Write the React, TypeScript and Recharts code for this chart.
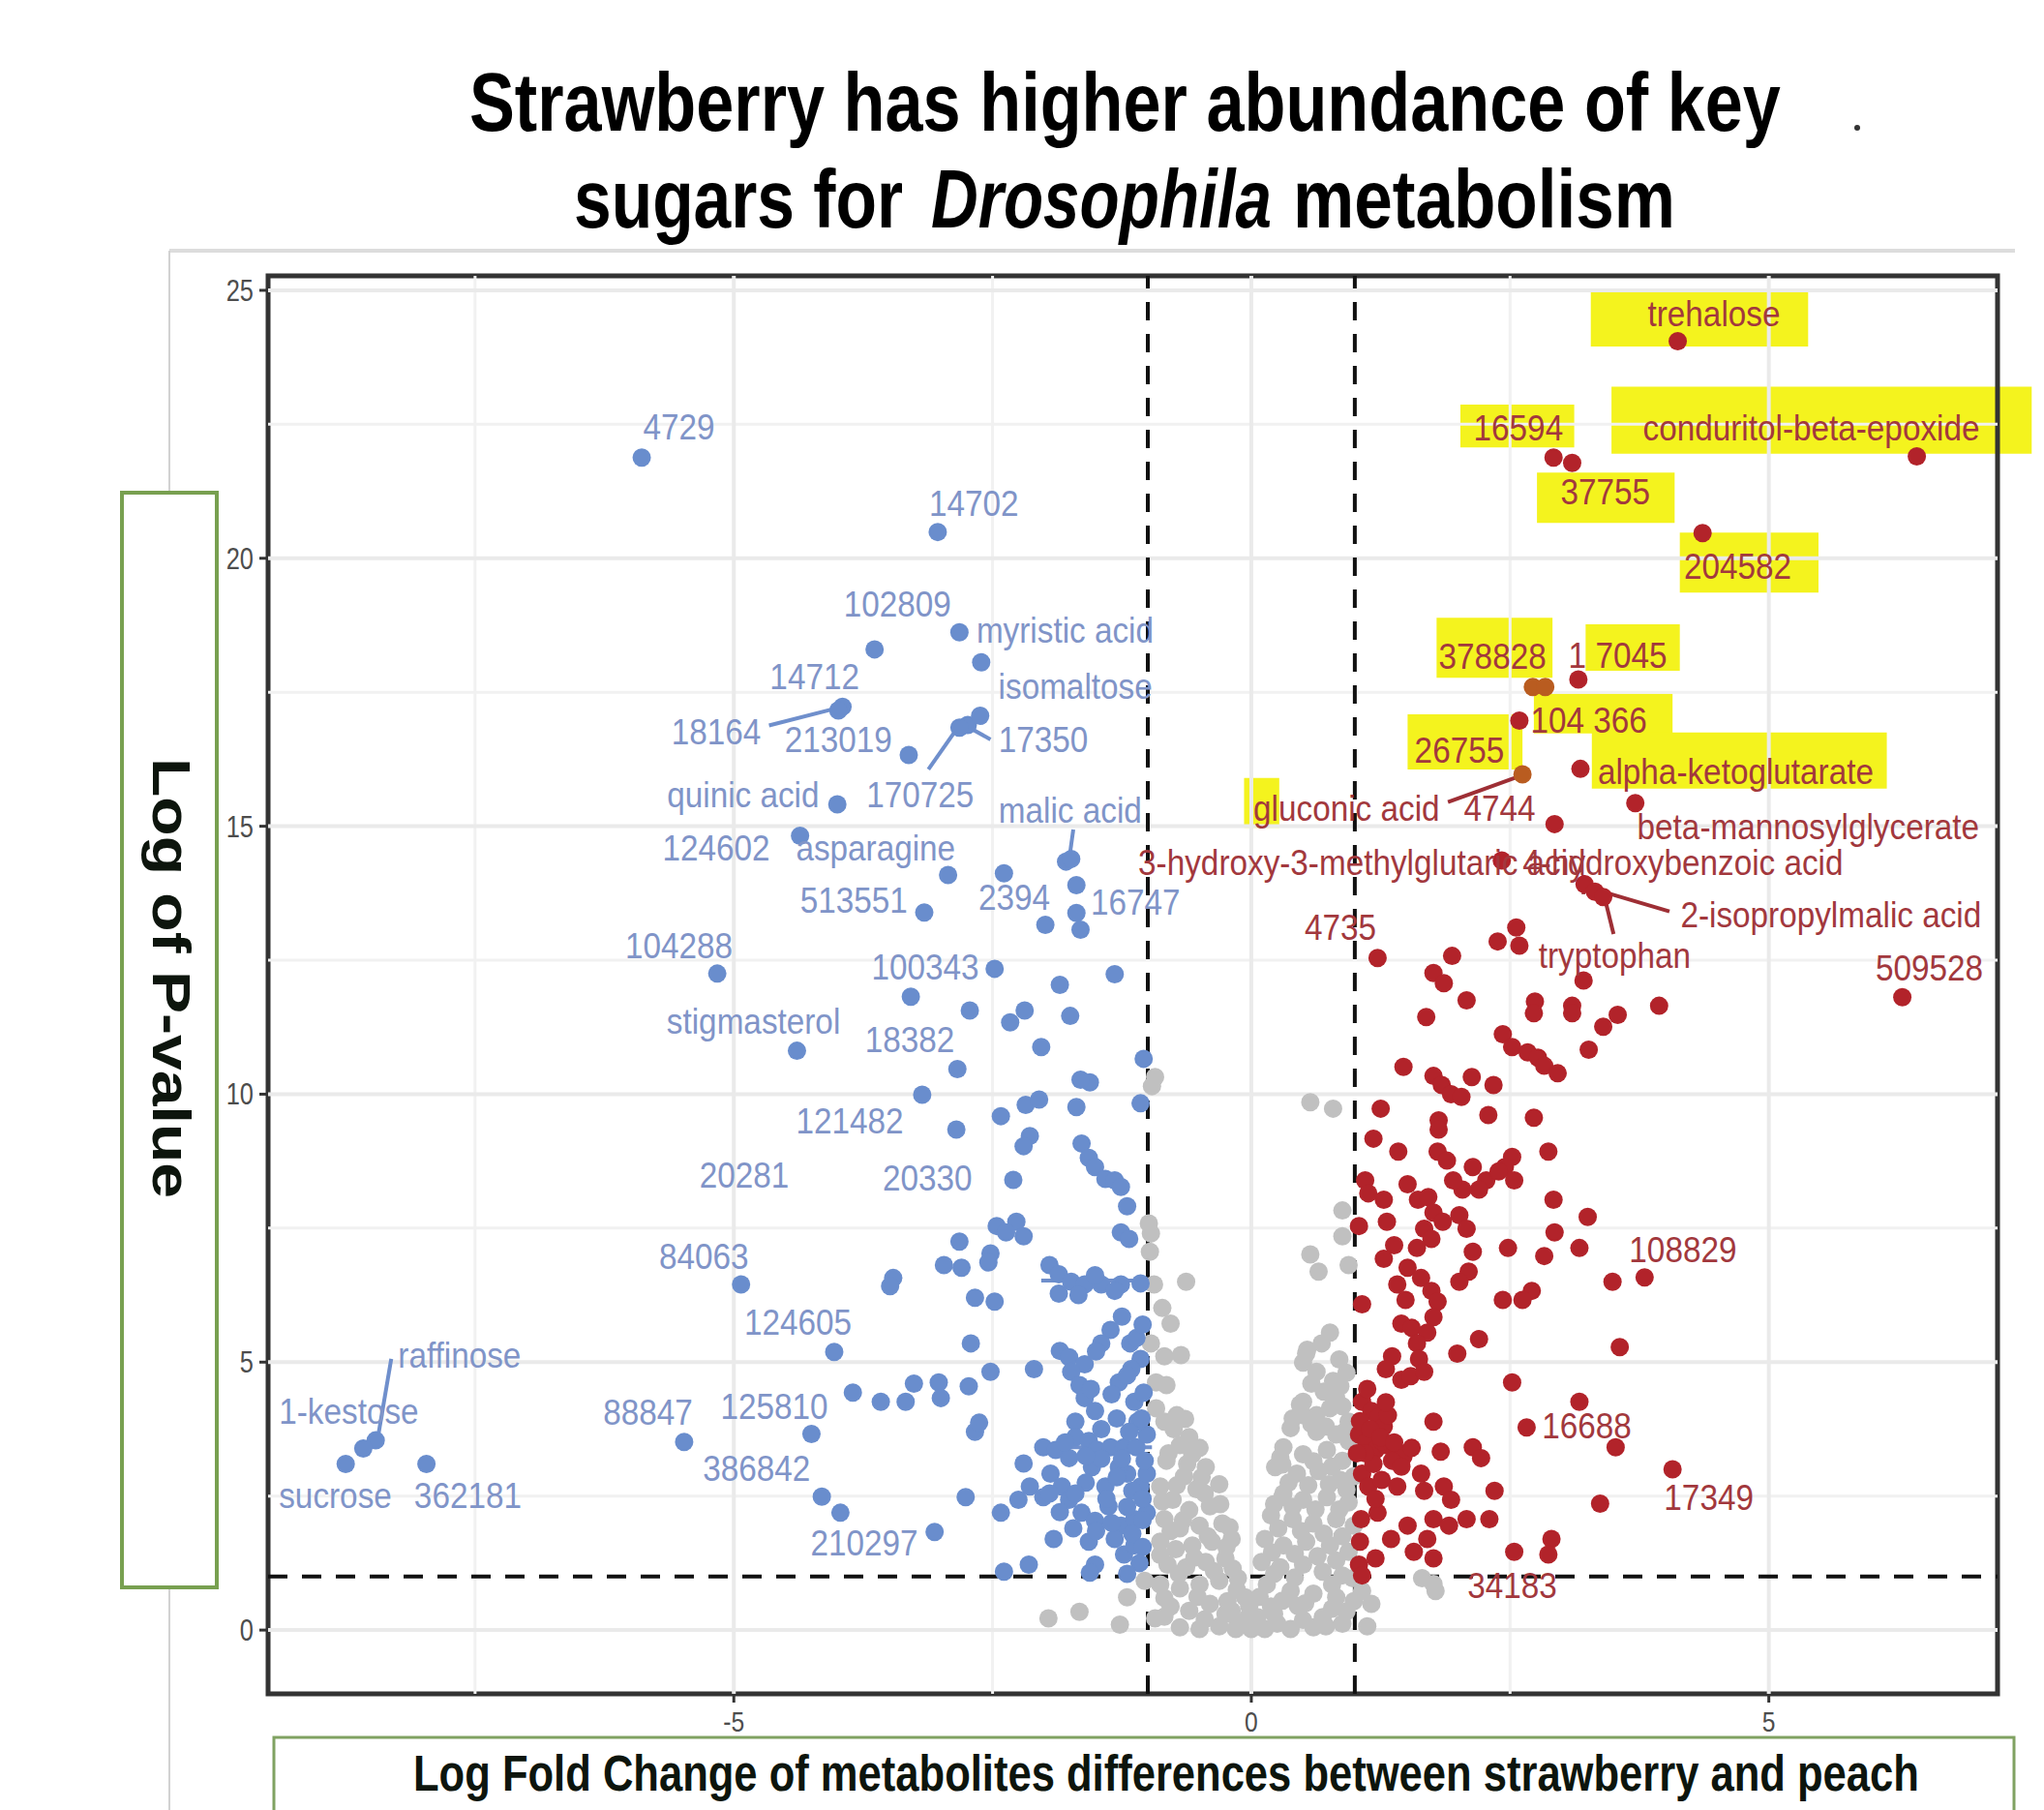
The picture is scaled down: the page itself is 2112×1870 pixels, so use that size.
import React, { useLayoutEffect, useRef, useState } from "react";
import { ScatterChart, Scatter, XAxis, YAxis, ReferenceLine, ReferenceArea } from "recharts";

// ---------- axes ----------
const X_DOMAIN: [number, number] = [-9.5, 7.21];
const Y_DOMAIN: [number, number] = [-1.19, 25.27];
const xTicks = [-5, 0, 5];
const yTicks = [0, 5, 10, 15, 20, 25];
const xMinor = [-7.5, -2.5, 2.5];
const yMinor = [2.5, 7.5, 12.5, 17.5, 22.5];
const fcThresholds = [-1, 1];
const pThreshold = 1;

// ---------- labelled metabolites ----------
const blueLabeled = [
  { name: "4729", x: -5.89, y: 21.88 },
  { name: "14702", x: -3.03, y: 20.49 },
  { name: "102809", x: -3.64, y: 18.3 },
  { name: "myristic acid", x: -2.82, y: 18.62 },
  { name: "isomaltose", x: -2.61, y: 18.06 },
  { name: "14712", x: -3.95, y: 17.23 },
  { name: "18164", x: -3.99, y: 17.16 },
  { name: "213019", x: -3.31, y: 16.33 },
  { name: "17350", x: -2.62, y: 17.06 },
  { name: "170725", x: -2.82, y: 16.84 },
  { name: "quinic acid", x: -4.0, y: 15.41 },
  { name: "124602", x: -4.36, y: 14.82 },
  { name: "asparagine", x: -2.93, y: 14.09 },
  { name: "513551", x: -3.16, y: 13.39 },
  { name: "2394", x: -2.39, y: 14.12 },
  { name: "malic acid", x: -1.74, y: 14.39 },
  { name: "16747", x: -1.69, y: 13.9 },
  { name: "104288", x: -5.16, y: 12.25 },
  { name: "100343", x: -2.48, y: 12.34 },
  { name: "stigmasterol", x: -4.39, y: 10.81 },
  { name: "18382", x: -2.84, y: 10.47 },
  { name: "121482", x: -3.18, y: 9.99 },
  { name: "20330", x: -2.3, y: 8.4 },
  { name: "84063", x: -4.93, y: 6.45 },
  { name: "124605", x: -4.03, y: 5.19 },
  { name: "88847", x: -5.48, y: 3.51 },
  { name: "125810", x: -4.25, y: 3.66 },
  { name: "386842", x: -4.15, y: 2.49 },
  { name: "210297", x: -3.06, y: 1.83 },
  { name: "raffinose", x: -8.46, y: 3.54 },
  { name: "1-kestose", x: -8.58, y: 3.39 },
  { name: "sucrose", x: -8.75, y: 3.1 },
  { name: "362181", x: -7.97, y: 3.1 },
];

const redLabeled = [
  { name: "trehalose", x: 4.12, y: 24.05 },
  { name: "16594", x: 2.92, y: 21.88 },
  { name: "37755", x: 3.1, y: 21.78 },
  { name: "conduritol-beta-epoxide", x: 6.43, y: 21.9 },
  { name: "204582", x: 4.36, y: 20.47 },
  { name: "378828", x: 2.72, y: 17.6 },
  { name: "378828b", x: 2.84, y: 17.6 },
  { name: "17045", x: 3.16, y: 17.74 },
  { name: "104366", x: 2.59, y: 16.97 },
  { name: "26755", x: 2.62, y: 15.97 },
  { name: "alpha-ketoglutarate", x: 3.18, y: 16.07 },
  { name: "4744", x: 2.93, y: 15.04 },
  { name: "beta-mannosylglycerate", x: 3.71, y: 15.43 },
  { name: "3-hydroxy-3-methylglutaric acid", x: 2.42, y: 14.36 },
  { name: "4-hydroxybenzoic acid", x: 3.22, y: 13.92 },
  { name: "tryptophan", x: 3.32, y: 13.78 },
  { name: "2-isopropylmalic acid", x: 3.4, y: 13.68 },
  { name: "4735", x: 1.22, y: 12.54 },
  { name: "509528", x: 6.29, y: 11.81 },
  { name: "108829", x: 3.8, y: 6.58 },
  { name: "16688", x: 2.66, y: 3.78 },
  { name: "17349", x: 4.07, y: 3.0 },
];

// ---------- other significant / non-significant metabolites ----------
const blueOther: [number, number][] = [
  [-2.74, 16.89], [-3.97, 2.19], [-1.79, 14.34],
  [-1.99, 13.16], [-1.69, 13.38], [-1.65, 13.07], [-1.32, 12.24], [-1.85, 12.04], [-1.75, 11.46],
  [-2.19, 11.56], [-2.33, 11.34], [-2.72, 11.56], [-3.29, 11.82], [-2.03, 10.88], [-1.04, 10.66],
  [-1.07, 9.83], [-1.56, 10.22], [-1.65, 10.27], [-1.69, 9.76], [-2.42, 9.59], [-2.18, 9.8],
  [-2.05, 9.9], [-2.85, 9.34], [-2.14, 9.22], [-2.2, 9.03], [-1.64, 9.08], [-1.57, 8.81],
  [-1.51, 8.64], [-1.41, 8.42], [-1.32, 8.39], [-1.26, 8.27], [-1.2, 7.91], [-1.26, 7.42],
  [-1.18, 7.3], [-2.27, 7.62], [-2.46, 7.54], [-2.37, 7.42], [-2.2, 7.35], [-2.82, 7.25],
  [-2.52, 7.03], [-2.54, 6.86], [-3.46, 6.57], [-3.49, 6.42], [-2.97, 6.81], [-2.8, 6.76],
  [-2.67, 6.2], [-2.48, 6.13], [-1.95, 6.81], [-1.86, 6.64], [-1.74, 6.5], [-1.61, 6.45],
  [-1.45, 6.45], [-1.26, 6.45], [-1.07, 6.47], [-1.51, 6.62], [-1.86, 6.28], [-1.67, 6.25],
  [-1.32, 6.33], [-1.36, 5.6], [-1.17, 5.35], [-1.11, 5.45], [-2.71, 5.35], [-2.52, 4.82],
  [-2.1, 4.87], [-1.85, 5.21], [-1.76, 5.09], [-1.61, 4.96], [-1.74, 4.82], [-1.66, 4.57],
  [-1.61, 4.33], [-1.51, 4.09], [-1.7, 3.89], [-1.07, 5.06], [-1.13, 4.26], [-1.04, 4.43],
  [-3.85, 4.43], [-3.58, 4.26], [-3.34, 4.26], [-3.26, 4.6], [-3.02, 4.62], [-3.0, 4.33],
  [-2.73, 4.55], [-2.67, 3.7], [-2.63, 3.87], [-2.01, 3.41], [-1.89, 3.36], [-1.7, 3.6],
  [-1.57, 3.53], [-1.49, 3.36], [-1.36, 3.41], [-1.23, 3.41], [-1.11, 3.41], [-2.2, 3.11],
  [-2.14, 2.68], [-2.01, 2.48], [-1.94, 2.92], [-1.83, 2.68], [-1.76, 2.43], [-1.64, 2.19],
  [-1.51, 2.04], [-1.38, 2.31], [-1.26, 1.95], [-1.13, 2.07], [-1.01, 2.19], [-1.07, 2.68],
  [-1.2, 2.92], [-1.01, 2.92], [-1.03, 3.16], [-2.76, 2.48], [-2.42, 2.19], [-2.25, 2.43],
  [-2.39, 1.09], [-2.15, 1.22], [-1.91, 1.7], [-1.72, 1.9], [-1.57, 1.65], [-1.51, 1.22],
  [-1.56, 1.07], [-1.32, 1.7], [-1.23, 1.41], [-1.13, 1.58], [-1.41, 2.68], [-1.28, 3.04],
  [-1.54, 3.04], [-1.76, 3.21], [-1.01, 3.65], [-1.1, 3.89], [-1.16, 4.87], [-1.28, 4.62],
  [-1.45, 5.35],
  [-1.45, 3.2], [-1.3, 2.85], [-1.15, 2.6], [-1.6, 2.75], [-1.7, 2.55], [-1.4, 2.45],
  [-1.2, 2.3], [-1.05, 2.45], [-1.5, 1.85], [-1.35, 2.0], [-1.15, 1.8], [-1.05, 1.55],
  [-1.85, 2.2], [-1.95, 2.55], [-1.25, 3.2], [-1.6, 3.25], [-1.8, 3.5], [-1.45, 3.75],
  [-1.3, 3.95], [-1.18, 3.7], [-1.06, 3.95], [-1.55, 4.5], [-1.35, 4.4], [-1.2, 4.75],
  [-1.5, 5.2], [-1.05, 5.7], [-1.25, 5.85], [-1.05, 2.05], [-1.08, 1.25], [-1.2, 1.05],
];

const redOther: [number, number][] = [
  [2.56, 13.11], [2.59, 12.77], [2.38, 12.85], [1.94, 12.58], [1.76, 12.26], [1.86, 12.07],
  [2.08, 11.75], [1.69, 11.44], [2.74, 11.73], [2.73, 11.51], [3.21, 12.12], [3.1, 11.65],
  [3.1, 11.51], [3.54, 11.48], [3.4, 11.26], [3.94, 11.65], [3.26, 10.83], [2.43, 11.12],
  [2.52, 10.88], [2.67, 10.78], [2.77, 10.68], [2.83, 10.53], [2.96, 10.39], [1.47, 10.51],
  [1.76, 10.34], [1.84, 10.17], [1.93, 10.0], [2.03, 9.95], [2.13, 10.32], [2.34, 10.17],
  [1.25, 9.73], [1.81, 9.51], [1.81, 9.34], [2.29, 9.61], [2.73, 9.56], [2.87, 8.93],
  [2.52, 8.83], [2.45, 8.64], [1.18, 9.17], [1.42, 8.93], [1.8, 8.93], [1.89, 8.76],
  [2.14, 8.64], [2.27, 8.39], [2.39, 8.56], [2.54, 8.39], [2.2, 8.22], [2.04, 8.22],
  [1.95, 8.39], [1.1, 8.39], [1.13, 8.15], [1.28, 8.03], [1.51, 8.32], [1.61, 8.03],
  [1.71, 8.08], [1.76, 7.79], [1.85, 7.62], [1.67, 7.49], [1.74, 7.3], [2.01, 7.74],
  [2.08, 7.49], [2.92, 8.03], [3.25, 7.71], [1.04, 7.54], [1.31, 7.62], [1.38, 7.18],
  [1.28, 6.93], [1.6, 7.13], [1.51, 6.76], [1.64, 6.57], [2.14, 7.06], [2.1, 6.69],
  [2.01, 6.5], [2.48, 7.13], [2.93, 7.42], [3.17, 7.13], [2.83, 6.98], [2.71, 6.33],
  [2.62, 6.16], [3.49, 6.5], [1.07, 6.08], [1.41, 6.45], [1.49, 6.16], [1.74, 6.33],
  [1.8, 6.13], [1.45, 5.72], [1.55, 5.64], [1.76, 5.84], [1.7, 5.55], [1.6, 5.35],
  [2.43, 6.16], [2.2, 5.43], [1.36, 5.11], [1.3, 4.87], [1.45, 4.67], [1.62, 5.06],
  [1.54, 4.74], [1.67, 4.82], [1.99, 5.16], [3.56, 5.28], [2.52, 4.62], [1.07, 4.26],
  [1.16, 4.09], [1.23, 3.97], [1.28, 3.8], [1.32, 4.01], [1.04, 3.65], [1.11, 3.5],
  [1.2, 3.36], [1.3, 3.45], [1.41, 3.33], [1.47, 3.24], [3.17, 4.26], [3.52, 3.41],
  [1.76, 3.89], [1.83, 3.33], [2.14, 3.41], [2.22, 3.21], [1.07, 2.92], [1.13, 2.68],
  [1.26, 2.8], [1.41, 2.68], [1.64, 2.92], [1.67, 2.6], [1.86, 2.68], [1.93, 2.43],
  [2.35, 2.6], [3.37, 2.36], [1.06, 2.07], [1.22, 2.19], [1.51, 1.95], [1.76, 2.07],
  [1.7, 1.7], [1.57, 1.46], [1.91, 1.95], [2.08, 2.07], [2.3, 2.07], [2.54, 1.46],
  [2.9, 1.7], [2.87, 1.41], [1.04, 1.22], [1.07, 1.02], [1.2, 1.34], [1.76, 1.34],
  [1.26, 3.53], [1.36, 3.16],
  [1.05, 3.9], [1.15, 3.75], [1.25, 3.6], [1.38, 3.5], [1.18, 3.1], [1.1, 3.3],
  [1.45, 3.05], [1.55, 3.4], [1.02, 3.3], [1.3, 4.25], [1.12, 4.5], [1.2, 2.45],
  [1.05, 1.65], [1.35, 1.7],
];

const grayOther: [number, number][] = [
  [-0.93, 10.32], [-0.96, 10.15], [0.57, 9.85], [0.79, 9.73], [-0.99, 7.59], [-0.97, 7.4],
  [-0.98, 7.06], [0.88, 7.83], [0.88, 7.35], [0.57, 7.01], [0.65, 6.69], [0.94, 6.81],
  [-0.63, 6.5], [-0.94, 6.45], [-0.86, 6.01], [-0.78, 5.72], [0.76, 5.55], [-0.97, 5.35],
  [-0.84, 5.11], [0.54, 5.23], [0.63, 4.82], [0.5, 4.99], [0.86, 4.55], [0.82, 4.33],
  [-0.92, 4.62], [-0.82, 4.57], [-0.92, 4.14], [-0.84, 3.89], [-0.72, 4.01], [0.5, 4.26],
  [0.63, 4.01], [0.76, 4.14], [0.88, 4.18], [0.94, 3.89], [-0.68, 5.13], [-0.64, 3.94],
  [0.53, 5.16], [0.79, 4.65], [0.47, 4.21], [0.3, 3.09], [0.3, 2.48], [-0.21, 1.92],
  [-1.96, 0.22], [-1.66, 0.34], [-1.27, 0.1], [-1.2, 0.61], [-1.03, 0.92], [-0.93, 0.22],
  [1.16, 0.49], [1.12, 0.07], [0.72, 0.07], [1.07, 0.73], [1.65, 0.97], [1.78, 0.73],
  [-0.69, 3.45], [-0.57, 3.28], [-0.82, 3.16], [-0.44, 3.04], [-0.65, 2.87], [-0.88, 2.68],
  [-0.53, 2.63], [-0.31, 2.72], [-0.76, 2.43], [-0.6, 2.24], [-0.4, 2.31], [-0.84, 2.07],
  [-0.69, 1.9], [-0.5, 1.95], [-0.28, 1.99], [-0.88, 1.65], [-0.73, 1.51], [-0.57, 1.58],
  [-0.38, 1.65], [-0.19, 1.7], [-0.81, 1.22], [-0.63, 1.17], [-0.44, 1.27], [-0.25, 1.34],
  [-0.88, 0.85], [-0.69, 0.78], [-0.5, 0.85], [-0.31, 0.92], [-0.13, 0.97], [-0.78, 0.44],
  [-0.6, 0.36], [-0.4, 0.49], [-0.23, 0.54], [-0.06, 0.61], [-0.69, 0.05], [-0.5, 0.02],
  [-0.31, 0.07], [-0.13, 0.12], [0.06, 0.24], [0.19, 0.44], [0.25, 0.12], [0.38, 0.02],
  [0.5, 0.19], [0.0, 0.02], [-0.19, 0.36], [-0.03, 0.24], [0.13, 0.02], [-0.15, 0.02],
  [0.5, 4.01], [0.38, 3.77], [0.63, 3.7], [0.82, 3.65], [0.94, 3.53], [0.31, 3.41],
  [0.5, 3.28], [0.73, 3.36], [0.88, 3.16], [0.23, 3.04], [0.44, 2.92], [0.65, 2.97],
  [0.86, 2.8], [0.99, 2.87], [0.31, 2.55], [0.5, 2.43], [0.73, 2.48], [0.94, 2.38],
  [0.19, 2.14], [0.4, 2.07], [0.6, 1.99], [0.82, 2.07], [0.99, 1.95], [0.13, 1.7],
  [0.31, 1.58], [0.53, 1.65], [0.76, 1.58], [0.94, 1.46], [0.1, 1.27], [0.28, 1.17],
  [0.5, 1.22], [0.69, 1.09], [0.88, 1.02], [0.98, 0.97], [0.15, 0.85], [0.38, 0.73],
  [0.6, 0.68], [0.82, 0.61], [0.99, 0.54], [0.69, 0.24], [0.88, 0.12],
  [-0.8, 3.3], [-0.62, 3.1], [-0.48, 2.85], [-0.72, 2.7], [-0.86, 2.4], [-0.45, 2.55],
  [-0.3, 2.35], [-0.66, 2.05], [-0.78, 1.85], [-0.42, 1.75], [-0.24, 1.55], [-0.88, 1.4],
  [-0.55, 1.35], [-0.7, 1.05], [-0.36, 1.1], [-0.18, 1.15], [-0.84, 0.6], [-0.52, 0.62],
  [-0.14, 0.75], [-0.84, 0.25], [-0.45, 0.2], [-0.25, 0.3], [-0.02, 0.45], [0.08, 0.62],
  [0.22, 0.3], [0.3, 0.55], [0.45, 0.45], [-0.6, 3.6], [-0.75, 3.75], [-0.5, 3.4],
  [0.4, 3.95], [0.58, 3.85], [0.72, 3.8], [0.9, 3.7], [0.28, 3.22], [0.6, 3.15],
  [0.78, 3.05], [0.36, 2.75], [0.55, 2.7], [0.75, 2.72], [0.92, 2.62], [0.22, 2.35],
  [0.4, 2.3], [0.62, 2.25], [0.85, 2.25], [0.26, 1.9], [0.48, 1.85], [0.7, 1.8],
  [0.88, 1.75], [0.2, 1.45], [0.42, 1.42], [0.64, 1.38], [0.82, 1.3], [0.22, 1.05],
  [0.42, 0.98], [0.78, 0.85], [0.52, 0.5], [0.92, 0.35], [0.6, 0.05], [0.78, 0.4],
  [0.7, 4.45], [0.92, 4.8], [0.58, 4.6], [0.85, 5.05], [0.68, 5.35],
];
const grayLabeled = [{ name: "34183", x: 1.76, y: 0.86 }];

// label text placements (label centre, data units)
const labelSpots = [
  { t: "4729", x: -5.53, y: 22.46, g: "b" }, { t: "14702", x: -2.68, y: 21.02, g: "b" },
  { t: "102809", x: -3.42, y: 19.15, g: "b" }, { t: "myristic acid", x: -1.8, y: 18.66, g: "b" },
  { t: "isomaltose", x: -1.7, y: 17.62, g: "b" }, { t: "14712", x: -4.22, y: 17.79, g: "b" },
  { t: "18164", x: -5.17, y: 16.76, g: "b" }, { t: "213019", x: -3.99, y: 16.62, g: "b" },
  { t: "17350", x: -2.01, y: 16.62, g: "b" }, { t: "170725", x: -3.2, y: 15.6, g: "b" },
  { t: "quinic acid", x: -4.91, y: 15.6, g: "b" }, { t: "malic acid", x: -1.75, y: 15.3, g: "b" },
  { t: "124602", x: -5.17, y: 14.6, g: "b" }, { t: "asparagine", x: -3.63, y: 14.6, g: "b" },
  { t: "513551", x: -3.84, y: 13.62, g: "b" }, { t: "2394", x: -2.29, y: 13.67, g: "b" },
  { t: "16747", x: -1.12, y: 13.58, g: "b" }, { t: "104288", x: -5.53, y: 12.77, g: "b" },
  { t: "100343", x: -3.15, y: 12.38, g: "b" }, { t: "stigmasterol", x: -4.81, y: 11.36, g: "b" },
  { t: "18382", x: -3.3, y: 11.02, g: "b" }, { t: "121482", x: -3.88, y: 9.51, g: "b" },
  { t: "20281", x: -4.9, y: 8.49, g: "b" }, { t: "20330", x: -3.13, y: 8.44, g: "b" },
  { t: "84063", x: -5.29, y: 6.98, g: "b" }, { t: "124605", x: -4.38, y: 5.74, g: "b" },
  { t: "raffinose", x: -7.65, y: 5.13, g: "b" }, { t: "1-kestose", x: -8.72, y: 4.09, g: "b" },
  { t: "88847", x: -5.83, y: 4.06, g: "b" }, { t: "125810", x: -4.61, y: 4.18, g: "b" },
  { t: "386842", x: -4.78, y: 3.02, g: "b" }, { t: "sucrose", x: -8.85, y: 2.51, g: "b" },
  { t: "362181", x: -7.57, y: 2.51, g: "b" }, { t: "210297", x: -3.74, y: 1.63, g: "b" },
  { t: "trehalose", x: 4.47, y: 24.57, g: "r" }, { t: "16594", x: 2.58, y: 22.43, g: "r" },
  { t: "conduritol-beta-epoxide", x: 5.41, y: 22.43, g: "r" }, { t: "37755", x: 3.42, y: 21.24, g: "r" },
  { t: "204582", x: 4.7, y: 19.85, g: "r" }, { t: "378828", x: 2.33, y: 18.17, g: "r" },
  { t: "1 7045", x: 3.54, y: 18.2, g: "r" }, { t: "104 366", x: 3.26, y: 16.98, g: "r" },
  { t: "26755", x: 2.01, y: 16.42, g: "r" }, { t: "alpha-ketoglutarate", x: 4.68, y: 16.03, g: "r" },
  { t: "gluconic acid", x: 0.92, y: 15.33, g: "r" }, { t: "4744", x: 2.4, y: 15.33, g: "r" },
  { t: "beta-mannosylglycerate", x: 5.38, y: 14.99, g: "r" },
  { t: "3-hydroxy-3-methylglutaric acid", x: 1.07, y: 14.33, g: "r" },
  { t: "4-hydroxybenzoic acid", x: 4.17, y: 14.33, g: "r" },
  { t: "2-isopropylmalic acid", x: 5.6, y: 13.36, g: "r" }, { t: "tryptophan", x: 3.51, y: 12.6, g: "r" },
  { t: "4735", x: 0.86, y: 13.11, g: "r" }, { t: "509528", x: 6.55, y: 12.36, g: "r" },
  { t: "108829", x: 4.17, y: 7.1, g: "r" }, { t: "16688", x: 3.24, y: 3.82, g: "r" },
  { t: "17349", x: 4.42, y: 2.48, g: "r" }, { t: "34183", x: 2.52, y: 0.83, g: "r" },
];

// label connector segments (data units)
const connectors = [
  { a: [-4.66, 16.88], b: [-3.95, 17.23], g: "b" },
  { a: [-3.12, 16.06], b: [-2.83, 16.86], g: "b" },
  { a: [-2.81, 16.93], b: [-2.52, 16.62], g: "b" },
  { a: [-1.72, 14.94], b: [-1.76, 14.38], g: "b" },
  { a: [-8.31, 5.06], b: [-8.44, 3.58], g: "b" },
  { a: [-2.03, 6.52], b: [-0.97, 6.52], g: "b" },
  { a: [-1.94, 3.41], b: [-0.96, 3.41], g: "b" },
  { a: [1.9, 15.45], b: [2.56, 15.91], g: "r" },
  { a: [4.04, 13.41], b: [3.32, 13.82], g: "r" },
  { a: [3.5, 12.99], b: [3.42, 13.62], g: "r" },
  { a: [3.21, 14.09], b: [3.21, 13.73], g: "r" },
];

// hand-drawn yellow highlights (data units)
const highlights = [
  { x1: 3.28, x2: 5.38, y1: 23.95, y2: 25.0 },
  { x1: 2.02, x2: 3.12, y1: 22.07, y2: 22.87 },
  { x1: 3.48, x2: 7.54, y1: 21.95, y2: 23.2 },
  { x1: 2.76, x2: 4.09, y1: 20.66, y2: 21.6 },
  { x1: 4.14, x2: 5.48, y1: 19.36, y2: 20.48 },
  { x1: 1.79, x2: 2.91, y1: 17.77, y2: 18.89 },
  { x1: 3.23, x2: 4.14, y1: 17.9, y2: 18.77 },
  { x1: 2.73, x2: 4.07, y1: 16.73, y2: 17.47 },
  { x1: 1.51, x2: 2.62, y1: 16.06, y2: 17.09 },
  { x1: 3.29, x2: 6.14, y1: 15.7, y2: 16.75 },
  { x1: -0.07, x2: 0.27, y1: 14.97, y2: 15.9 },
];

const orangeDots = new Set(["378828", "378828b", "26755"]);

// ---------- styles ----------
const BLUE = "#698dcd";
const RED = "#b2232a";
const GRAY = "#c0c0c0";
const ORANGE = "#b95c20";
const BLUE_TXT = "#8094c8";
const RED_TXT = "#a2383d";
const FONT = "'Liberation Sans', Arial, sans-serif";
const R = 9.5;

const toPts = (arr: [number, number][]) => arr.map(([x, y]) => ({ x, y }));

const makeDot = (fill: string) => (p: any) => {
  const name = p?.payload?.name;
  const f = name && orangeDots.has(name) ? ORANGE : fill;
  return <circle cx={p.cx} cy={p.cy} r={R} fill={f} />;
};

const LabelShape = (p: any) => {
  const d = p.payload || p;
  return (
    <g transform={`translate(${p.cx},${p.cy}) scale(0.9,1)`}>
      <text
        x={0}
        y={0}
        textAnchor="middle"
        dominantBaseline="central"
        fontFamily={FONT}
        fontSize={37}
        fill={d.g === "b" ? BLUE_TXT : RED_TXT}
      >
        {d.t}
      </text>
    </g>
  );
};

const XTick = (p: any) => (
  <g transform={`translate(${p.x},${p.y + 28}) scale(0.82,1)`}>
    <text x={0} y={0} textAnchor="middle" fontFamily={FONT} fontSize={30} fill="#4d4d4d">
      {p.payload.value}
    </text>
  </g>
);

const YTick = (p: any) => (
  <g transform={`translate(${p.x},${p.y + 11}) scale(0.82,1)`}>
    <text x={0} y={0} textAnchor="end" fontFamily={FONT} fontSize={31} fill="#4d4d4d">
      {p.payload.value}
    </text>
  </g>
);

// Text squeezed horizontally (via transform) to a target width, like a condensed face.
function FitText(props: {
  x: number;
  y: number;
  width: number;
  size: number;
  rotate?: number;
  italic?: boolean;
  fill?: string;
  guess: number;
  children: string;
}) {
  const ref = useRef<SVGTextElement>(null);
  const [s, setS] = useState(props.guess);
  useLayoutEffect(() => {
    if (ref.current) {
      const w = ref.current.getComputedTextLength();
      if (w > 0) setS(props.width / w);
    }
  }, [props.width]);
  return (
    <g transform={`translate(${props.x},${props.y}) rotate(${props.rotate || 0}) scale(${s},1)`}>
      <text
        ref={ref}
        x={0}
        y={0}
        fontFamily={FONT}
        fontWeight="bold"
        fontStyle={props.italic ? "italic" : "normal"}
        fontSize={props.size}
        fill={props.fill || "#000"}
      >
        {props.children}
      </text>
    </g>
  );
}

export default function App() {
  const border = { stroke: "#333", strokeWidth: 5 };
  return (
    <div style={{ position: "relative", width: 2112, height: 1870, background: "#fff" }}>
      <style>{"body{margin:0}"}</style>
      <ScatterChart width={2112} height={1870} margin={{ top: 285, right: 48, bottom: 70, left: 217 }}>
        <XAxis
          type="number"
          dataKey="x"
          domain={X_DOMAIN}
          ticks={xTicks}
          allowDataOverflow
          axisLine={false}
          tickLine={{ stroke: "#333", strokeWidth: 3 }}
          tickSize={9}
          height={50}
          tick={<XTick />}
        />
        <YAxis
          type="number"
          dataKey="y"
          domain={Y_DOMAIN}
          ticks={yTicks}
          allowDataOverflow
          axisLine={false}
          tickLine={{ stroke: "#333", strokeWidth: 3 }}
          tickSize={9}
          tickMargin={6}
          width={60}
          tick={<YTick />}
        />
        {xMinor.map((v) => (
          <ReferenceLine key={"xm" + v} x={v} stroke="#f1f1f1" strokeWidth={3} />
        ))}
        {yMinor.map((v) => (
          <ReferenceLine key={"ym" + v} y={v} stroke="#f1f1f1" strokeWidth={3} />
        ))}
        {xTicks.map((v) => (
          <ReferenceLine key={"xM" + v} x={v} stroke="#eaeaea" strokeWidth={4} />
        ))}
        {yTicks.map((v) => (
          <ReferenceLine key={"yM" + v} y={v} stroke="#eaeaea" strokeWidth={4} />
        ))}
        {highlights.map((h, i) => (
          <ReferenceArea
            key={"hl" + i}
            x1={h.x1}
            x2={h.x2}
            y1={h.y1}
            y2={h.y2}
            fill="#f4f31e"
            fillOpacity={1}
            stroke="none"
            ifOverflow="visible"
          />
        ))}
        <Scatter data={toPts(grayOther)} shape={makeDot(GRAY)} isAnimationActive={false} />
        <Scatter data={grayLabeled} shape={makeDot(GRAY)} isAnimationActive={false} />
        <Scatter data={toPts(blueOther)} shape={makeDot(BLUE)} isAnimationActive={false} />
        <Scatter data={blueLabeled} shape={makeDot(BLUE)} isAnimationActive={false} />
        <Scatter data={toPts(redOther)} shape={makeDot(RED)} isAnimationActive={false} />
        <Scatter data={redLabeled} shape={makeDot(RED)} isAnimationActive={false} />
        {fcThresholds.map((v) => (
          <ReferenceLine key={"fc" + v} x={v} stroke="#111" strokeWidth={4} strokeDasharray="19 14" />
        ))}
        <ReferenceLine y={pThreshold} stroke="#111" strokeWidth={4} strokeDasharray="20 15" />
        {connectors.map((c, i) => (
          <ReferenceLine
            key={"cn" + i}
            segment={[
              { x: c.a[0], y: c.a[1] },
              { x: c.b[0], y: c.b[1] },
            ]}
            stroke={c.g === "b" ? "#6f8fcc" : "#9e2f35"}
            strokeWidth={4}
            ifOverflow="visible"
          />
        ))}
        <Scatter data={labelSpots} shape={LabelShape} isAnimationActive={false} />
        <ReferenceArea
          x1={X_DOMAIN[0]}
          x2={X_DOMAIN[1]}
          y1={Y_DOMAIN[0]}
          y2={Y_DOMAIN[1]}
          fill="none"
          {...border}
          ifOverflow="visible"
        />
      </ScatterChart>
      <svg
        width={2112}
        height={1870}
        style={{ position: "absolute", left: 0, top: 0, pointerEvents: "none" }}
      >
        <line x1={175} y1={259} x2={2082} y2={259} stroke="#dcdcdc" strokeWidth={4} />
        <line x1={175} y1={259} x2={175} y2={509} stroke="#d2d2d2" strokeWidth={2} />
        <line x1={175} y1={1640} x2={175} y2={1870} stroke="#d2d2d2" strokeWidth={2} />
        <circle cx={1919} cy={132} r={3} fill="#333" />
        <FitText x={485} y={135} width={1355} size={86} guess={0.82}>
          Strawberry has higher abundance of key
        </FitText>
        <FitText x={593} y={235} width={340} size={86} guess={0.81}>
          sugars for
        </FitText>
        <FitText x={962} y={235} width={352} size={86} guess={0.78} italic>
          Drosophila
        </FitText>
        <FitText x={1336} y={235} width={395} size={86} guess={0.83}>
          metabolism
        </FitText>
        <rect x={126} y={509} width={98} height={1131} fill="none" stroke="#78a050" strokeWidth={4} />
        <FitText x={158} y={783} width={455} size={56} rotate={90} guess={0.85} fill="#0d150d">
          Log of P-value
        </FitText>
        <rect x={283} y={1795} width={1798} height={140} fill="none" stroke="#80a262" strokeWidth={3} />
        <FitText x={427} y={1850} width={1556} size={52} guess={0.78} fill="#0d150d">
          Log Fold Change of metabolites differences between strawberry and peach
        </FitText>
      </svg>
    </div>
  );
}
